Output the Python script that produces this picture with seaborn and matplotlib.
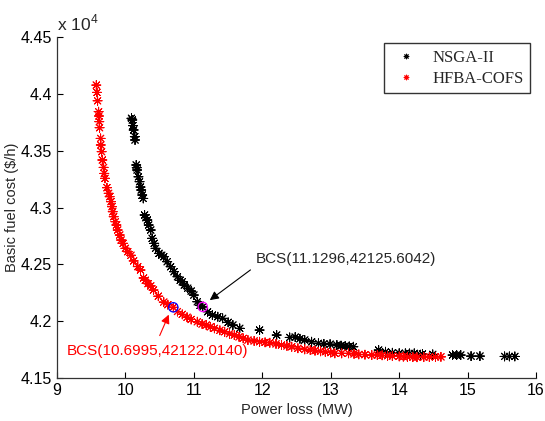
import numpy as np
import pandas as pd
import matplotlib
matplotlib.use('Agg')
import matplotlib.pyplot as plt
import seaborn as sns
from matplotlib.ticker import FuncFormatter

# ── Data (power loss MW, fuel cost $/h) ─────────────────────────────────
nsga_loss = [10.088, 10.10, 10.11, 10.12, 10.137, 10.14, 10.157, 10.165, 10.17, 10.19,
             10.206, 10.22, 10.23, 10.245, 10.26, 10.28, 10.30, 10.32, 10.34, 10.37,
             10.39, 10.42, 10.44, 10.49, 10.53, 10.56, 10.61, 10.66, 10.71, 10.76,
             10.80, 10.83, 10.86, 10.91, 10.96, 11.00, 11.05, 11.09, 11.13, 11.20,
             11.27, 11.35, 11.42, 11.50, 11.57, 11.67, 11.96, 12.21, 12.40, 12.48,
             12.55, 12.62, 12.72, 12.82, 12.90, 12.99, 13.09, 13.15, 13.21, 13.27,
             13.33, 13.70, 13.80, 13.90, 14.00, 14.09, 14.15, 14.22, 14.31, 14.34,
             14.49, 14.78, 14.84, 14.90, 15.05, 15.18, 15.54, 15.61, 15.69]
nsga_cost = [43785, 43770, 43720, 43682, 43623, 43594, 43374, 43350, 43330, 43270,
             43227, 43180, 43154, 43110, 43080, 42934, 42910, 42890, 42846, 42802,
             42729, 42685, 42641, 42597, 42580, 42567, 42523, 42479, 42435, 42391,
             42360, 42347, 42318, 42290, 42265, 42230, 42171, 42140, 42125, 42083,
             42054, 42039, 42025, 41990, 41966, 41937, 41922, 41878, 41857, 41860,
             41845, 41834, 41819, 41805, 41800, 41798, 41790, 41785, 41781, 41778,
             41775, 41746, 41731, 41722, 41718, 41717, 41716, 41717, 41705, 41711,
             41708, 41702, 41702, 41702, 41693, 41693, 41690, 41690, 41690]

hfba_loss = [9.574, 9.584, 9.593, 9.608, 9.613, 9.618, 9.622, 9.637, 9.640, 9.652,
             9.662, 9.681, 9.691, 9.701, 9.730, 9.755, 9.769, 9.789, 9.804, 9.814,
             9.828, 9.853, 9.868, 9.887, 9.917, 9.936, 9.966, 10.00, 10.034, 10.08,
             10.12, 10.18, 10.22, 10.265, 10.29, 10.33, 10.37, 10.41, 10.48, 10.56,
             10.62, 10.70, 10.76, 10.83, 10.90, 10.96, 11.05, 11.12, 11.18, 11.24,
             11.30, 11.38, 11.45, 11.52, 11.59, 11.66, 11.72, 11.79, 11.88, 11.96,
             12.04, 12.11, 12.20, 12.28, 12.36, 12.43, 12.52, 12.62, 12.70, 12.77,
             12.85, 12.92, 13.00, 13.06, 13.16, 13.26, 13.34, 13.41, 13.50, 13.60,
             13.68, 13.75, 13.83, 13.90, 14.00, 14.06, 14.12, 14.20, 14.26, 14.36,
             14.44, 14.53, 14.61]
hfba_cost = [44077, 44013, 43939, 43843, 43805, 43755, 43702, 43608, 43550, 43491,
             43418, 43353, 43300, 43257, 43174, 43125, 43095, 43051, 43007, 42963,
             42919, 42875, 42846, 42802, 42758, 42714, 42685, 42641, 42611, 42580,
             42530, 42480, 42450, 42380, 42360, 42330, 42310, 42274, 42220, 42168,
             42145, 42122, 42085, 42060, 42035, 42015, 41995, 41975, 41966, 41950,
             41937, 41920, 41907, 41890, 41878, 41862, 41849, 41834, 41826, 41819,
             41814, 41810, 41800, 41790, 41782, 41775, 41762, 41752, 41746, 41740,
             41735, 41731, 41724, 41717, 41717, 41717, 41712, 41708, 41705, 41702,
             41702, 41700, 41696, 41693, 41690, 41688, 41687, 41684, 41683, 41684,
             41685, 41686, 41686]

bcs_nsga = (11.1296, 42125.6042)
bcs_hfba = (10.6995, 42122.0140)

df = pd.concat([
    pd.DataFrame({'loss': nsga_loss, 'cost': nsga_cost, 'method': 'NSGA-II'}),
    pd.DataFrame({'loss': hfba_loss, 'cost': hfba_cost, 'method': 'HFBA-COFS'}),
])

sns.set_style('ticks')
plt.rcParams['font.family'] = ['Liberation Sans', 'DejaVu Sans']
plt.rcParams['mathtext.fontset'] = 'custom'
plt.rcParams['mathtext.rm'] = 'Liberation Sans'

fig = plt.figure(figsize=(5.45, 4.21), dpi=100)
ax = fig.add_axes([0.1046, 0.1021, 0.879, 0.81])

star = (8, 2, 0)
sns.scatterplot(data=df, x='loss', y='cost', hue='method',
                palette={'NSGA-II': 'black', 'HFBA-COFS': 'red'},
                marker=star, s=42, linewidth=0.7, ax=ax)

# best compromise solutions
ax.scatter(*bcs_hfba, s=45, facecolors='none', edgecolors='blue', linewidths=0.9, zorder=5)
ax.scatter(*bcs_nsga, s=45, facecolors='none', edgecolors='magenta', linewidths=0.9, zorder=5)

ax.annotate('', xy=(bcs_nsga[0] + 0.07, bcs_nsga[1] + 45),
            xytext=(bcs_nsga[0] + 0.73, bcs_nsga[1] + 340),
            arrowprops=dict(arrowstyle='-|>', color='black', lw=0.8, mutation_scale=13))
ax.text(11.91, 42546, 'BCS(11.1296,42125.6042)', fontsize=11, ha='left', va='center')

ax.annotate('', xy=(bcs_hfba[0] - 0.05, bcs_hfba[1] - 42),
            xytext=(bcs_hfba[0] - 0.215, bcs_hfba[1] - 271),
            arrowprops=dict(arrowstyle='-|>', color='red', lw=0.8, mutation_scale=13))
ax.text(9.147, 41737, 'BCS(10.6995,42122.0140)', fontsize=11, color='red',
        ha='left', va='center')

ax.set_xlim(9, 16)
ax.set_ylim(41500, 44500)
ax.set_xticks(range(9, 17))
ax.set_yticks(np.arange(41500, 44501, 500))
ax.yaxis.set_major_formatter(FuncFormatter(lambda v, p: '%g' % (v / 1e4)))
ax.text(0.0, 1.01, r'x 10$^{4}$', transform=ax.transAxes, fontsize=12.5,
        ha='left', va='bottom')

ax.set_xlabel('Power loss (MW)', fontsize=10.5, labelpad=4)
ax.set_ylabel('Basic fuel cost ($/h)', fontsize=10.5, labelpad=1)
ax.tick_params(direction='in', length=4, width=0.8, labelsize=11.5, colors='black',
               bottom=True, left=True)
sns.despine(ax=ax)
for s in ['left', 'bottom']:
    ax.spines[s].set_color('#333333')
    ax.spines[s].set_linewidth(0.9)

leg = ax.legend(loc='upper right', bbox_to_anchor=(0.988, 0.982), borderaxespad=0,
                frameon=True, fancybox=False, edgecolor='black', handletextpad=0.7,
                prop={'family': 'Liberation Serif', 'size': 12}, borderpad=0.4,
                labelspacing=0.3, markerscale=0.6, handlelength=1.8)
leg.get_frame().set_linewidth(1.0)

plt.savefig('out.png', dpi=100)
